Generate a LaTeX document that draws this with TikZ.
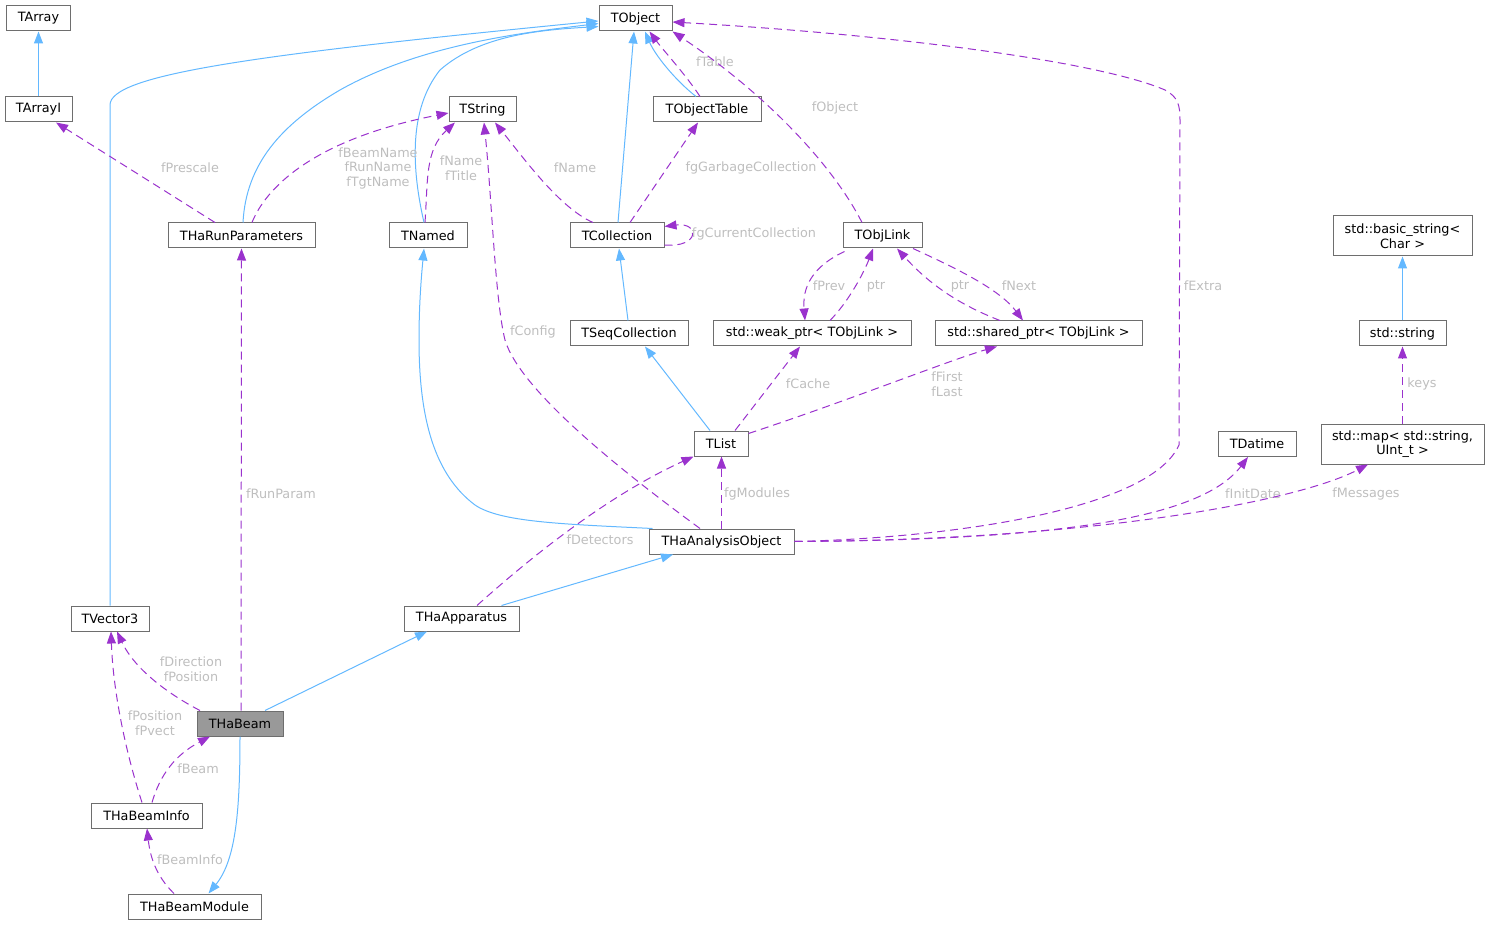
\documentclass[tikz,border=0pt]{standalone}
\usepackage{fontspec}
\setmainfont{DejaVu Sans}
\usetikzlibrary{arrows.meta}
\definecolor{inhcol}{RGB}{99,184,255}
\definecolor{usecol}{RGB}{154,50,205}
\definecolor{labcol}{RGB}{190,190,190}
\definecolor{boxcol}{RGB}{110,110,110}
\begin{document}
\begin{tikzpicture}[x=1pt,y=-1pt,
  every node/.style={font=\fontsize{12.8}{14.5}\selectfont},
  cls/.style={draw=boxcol,fill=white,line width=1pt,inner sep=0pt,minimum height=25pt,align=center,text=black},
  inh/.style={draw=inhcol,line width=1pt,-{Triangle[length=12pt,width=9pt]}},
  use/.style={draw=usecol,line width=1pt,dash pattern=on 8pt off 5pt,-{Triangle[length=12pt,width=9pt]}},
  lab/.style={text=labcol,align=center,inner sep=0pt}]
\useasboundingbox (0,0) rectangle (1489,925);
% nodes
\node[cls,minimum width=64pt] (TArray) at (38.5,18.5) {TArray};
\node[cls,minimum width=67pt] (TArrayI) at (38.5,109.5) {TArrayI};
\node[cls,minimum width=147pt] (RunPar) at (241.5,235.5) {THaRunParameters};
\node[cls,minimum width=73pt] (TObject) at (635.5,18.5) {TObject};
\node[cls,minimum width=67pt] (TString) at (482.5,109.5) {TString};
\node[cls,minimum width=78pt] (TNamed) at (428,235.5) {TNamed};
\node[cls,minimum width=94pt] (TCollection) at (617,235.5) {TCollection};
\node[cls,minimum width=108pt] (TObjTable) at (707,109.5) {TObjectTable};
\node[cls,minimum width=79pt] (TObjLink) at (882.5,235.5) {TObjLink};
\node[cls,minimum width=118pt] (TSeqColl) at (629,333.5) {TSeqCollection};
\node[cls,minimum width=198pt] (weak) at (812,333.5) {std::weak\_ptr< TObjLink >};
\node[cls,minimum width=207pt] (shared) at (1038.5,333.5) {std::shared\_ptr< TObjLink >};
\node[cls,minimum width=139pt,minimum height=40pt] (basic) at (1402.5,236) {std::basic\_string<\\Char >};
\node[cls,minimum width=87pt] (string) at (1402.5,333.5) {std::string};
\node[cls,minimum width=54pt] (TList) at (721,443.5) {TList};
\node[cls,minimum width=78pt] (TDatime) at (1257,444) {TDatime};
\node[cls,minimum width=163pt,minimum height=40pt] (map) at (1402.5,444) {std::map< std::string,\\UInt\_t >};
\node[cls,minimum width=145pt] (AnaObj) at (721.5,541.5) {THaAnalysisObject};
\node[cls,minimum width=115pt] (App) at (461.5,618.5) {THaApparatus};
\node[cls,minimum width=78pt] (TVector3) at (110,618.5) {TVector3};
\node[cls,minimum width=86pt,fill={rgb,255:red,153;green,153;blue,153}] (Beam) at (240,723.5) {THaBeam};
\node[cls,minimum width=111pt] (BeamInfo) at (146.5,815.5) {THaBeamInfo};
\node[cls,minimum width=133pt] (BeamMod) at (194.5,906.5) {THaBeamModule};

% inheritance edges
\draw[inh] (TArrayI.north) -- (TArray.south);
\draw[inh] (TVector3.north) -- (110,105) .. controls (110,75) and (250,55) .. ([yshift=-2.5pt]TObject.west);
\draw[inh] ([xshift=1.5pt]RunPar.north) .. controls (246,165) and (280,125) .. (340,90) .. controls (420,45) and (520,33) .. ([yshift=-5pt]TObject.west);
\draw[inh] ([xshift=-4pt]TNamed.north) .. controls (412,170) and (408,110) .. (440,70) .. controls (480,35) and (540,30) .. ([yshift=-8pt]TObject.west);
\draw[inh] ([xshift=1pt]TCollection.north) -- ([xshift=-1.5pt]TObject.south);
\draw[inh] ([xshift=-11pt]TObjTable.north) .. controls (675,80) and (655,55) .. ([xshift=9.5pt]TObject.south);
\draw[inh] ([xshift=-1pt]TSeqColl.north) -- ([xshift=2pt]TCollection.south);
\draw[inh] ([xshift=-11pt]TList.north) -- ([xshift=16pt]TSeqColl.south);
\draw[inh] ([xshift=4pt]AnaObj.north west) .. controls (560,524) and (500,522) .. (475,505) .. controls (435,475) and (419,420) .. (419,340) .. controls (419,300) and (422,270) .. ([xshift=-4pt]TNamed.south);
\draw[inh] ([xshift=40pt]App.north) -- ([xshift=-48.5pt]AnaObj.south);
\draw[inh] ([xshift=25pt]Beam.north) -- ([xshift=-34.5pt]App.south);
\draw[inh] (Beam.south) .. controls (240,810) and (236,860) .. ([xshift=14pt]BeamMod.north);
\draw[inh] (string.north) -- (basic.south);

% usage edges
\draw[use] ([xshift=-26.5pt]RunPar.north) -- ([xshift=17.5pt]TArrayI.south);
\node[lab] (lPrescale) at (190,168) {fPrescale};
\draw[use] ([xshift=10.5pt]RunPar.north) .. controls (265,190) and (310,140) .. ([yshift=-3.5pt]TString.west);
\node[lab] (lBeamName) at (378,168) {fBeamName\\fRunName\\fTgtName};
\draw[use] ([xshift=-3pt]TNamed.north) .. controls (428,180) and (425,150) .. ([xshift=-27.5pt]TString.south);
\node[lab] (lNameTitle) at (461,168) {fName\\fTitle};
\draw[use] ([xshift=-24pt]TCollection.north) .. controls (560,208) and (525,160) .. ([xshift=12.5pt]TString.south);
\node[lab] (lName) at (575,168) {fName};
\draw[use] ([xshift=-21.5pt]AnaObj.north) .. controls (620,470) and (520,390) .. (505,340) .. controls (495,300) and (492,200) .. ([xshift=1.5pt]TString.south);
\node[lab] (lConfig) at (533,332) {fConfig};
\draw[use] ([xshift=13pt]TCollection.north) -- ([xshift=-9pt]TObjTable.south);
\node[lab] (lGarb) at (751,168) {fgGarbageCollection};
\draw[use] ([xshift=-7pt]TObjTable.north) .. controls (686,75) and (663,50) .. ([xshift=14pt]TObject.south);
\node[lab] (lTable) at (715,62) {fTable};
\draw[use] ([yshift=-9.5pt]TCollection.east) .. controls (700,248) and (700,222) .. ([yshift=9pt]TCollection.east);
\node[lab] (lCurr) at (754,234) {fgCurrentCollection};
\draw[use] ([xshift=-20.5pt]TObjLink.north) .. controls (830,160) and (760,90) .. (TObject.south east);
\node[lab] (lObject) at (835,108) {fObject};
\draw[use] (AnaObj.east) .. controls (950,538) and (1150,510) .. (1179,445) -- (1180,120) .. controls (1180,105) and (1178,97) .. (1165,90) .. controls (1100,62) and (900,35) .. ([yshift=-3.5pt]TObject.east);
\node[lab] (lExtra) at (1203,286) {fExtra};
\draw[use] (AnaObj.east) .. controls (1050,540) and (1200,520) .. ([xshift=-9pt]TDatime.south);
\node[lab] (lInit) at (1253,494) {fInitDate};
\draw[use] (AnaObj.east) .. controls (1100,540) and (1300,500) .. ([xshift=-34.5pt]map.south);
\node[lab] (lMess) at (1366,494) {fMessages};
\draw[use] (AnaObj.north) -- ([xshift=0.5pt]TList.south);
\node[lab] (lMod) at (757,494) {fgModules};
\draw[use] ([xshift=15.5pt]App.north) .. controls (550,540) and (620,490) .. (TList.south west);
\node[lab] (lDet) at (600,540) {fDetectors};
\draw[use] ([xshift=14pt]TList.north) -- ([xshift=-12pt]weak.south);
\node[lab] (lCache) at (808,384) {fCache};
\draw[use] ([yshift=-3pt]TList.north east) .. controls (850,400) and (950,360) .. ([xshift=-41.5pt]shared.south);
\node[lab] (lFirst) at (947,384) {fFirst\\fLast};
\draw[use] ([xshift=2pt,yshift=-3pt]TObjLink.south west) .. controls (805,270) and (803,295) .. ([xshift=-7pt]weak.north);
\node[lab] (lPrev) at (829,286) {fPrev};
\draw[use] ([xshift=18pt]weak.north) .. controls (850,300) and (865,270) .. ([xshift=-9.5pt]TObjLink.south);
\node[lab] (lPtr1) at (876,286) {ptr};
\draw[use] ([xshift=-38.5pt]shared.north) .. controls (960,305) and (930,285) .. ([xshift=14.5pt]TObjLink.south);
\node[lab] (lPtr2) at (960,286) {ptr};
\draw[use] ([xshift=30.5pt]TObjLink.south) .. controls (960,270) and (1000,290) .. ([xshift=-15.5pt]shared.north);
\node[lab] (lNext) at (1019,286) {fNext};
\draw[use] (map.north) -- (string.south);
\node[lab] (lKeys) at (1422,384) {keys};
\draw[use] ([xshift=1pt]Beam.north) -- (RunPar.south);
\node[lab] (lRun) at (281,494) {fRunParam};
\draw[use] ([xshift=-40pt]Beam.north) .. controls (170,695) and (135,670) .. ([xshift=7pt]TVector3.south);
\node[lab] (lDir) at (191,669) {fDirection\\fPosition};
\draw[use] ([xshift=-4.5pt]BeamInfo.north) .. controls (125,750) and (113,690) .. ([xshift=1pt]TVector3.south);
\node[lab] (lPos) at (155,723) {fPosition\\fPvect};
\draw[use] ([xshift=5.5pt]BeamInfo.north) .. controls (160,775) and (175,755) .. ([xshift=-30pt]Beam.south);
\node[lab] (lBeam) at (198,769) {fBeam};
\draw[use] ([xshift=-20.5pt]BeamMod.north) .. controls (155,875) and (150,855) .. ([xshift=0.5pt]BeamInfo.south);
\node[lab] (lBInfo) at (190,860) {fBeamInfo};
\end{tikzpicture}
\end{document}
